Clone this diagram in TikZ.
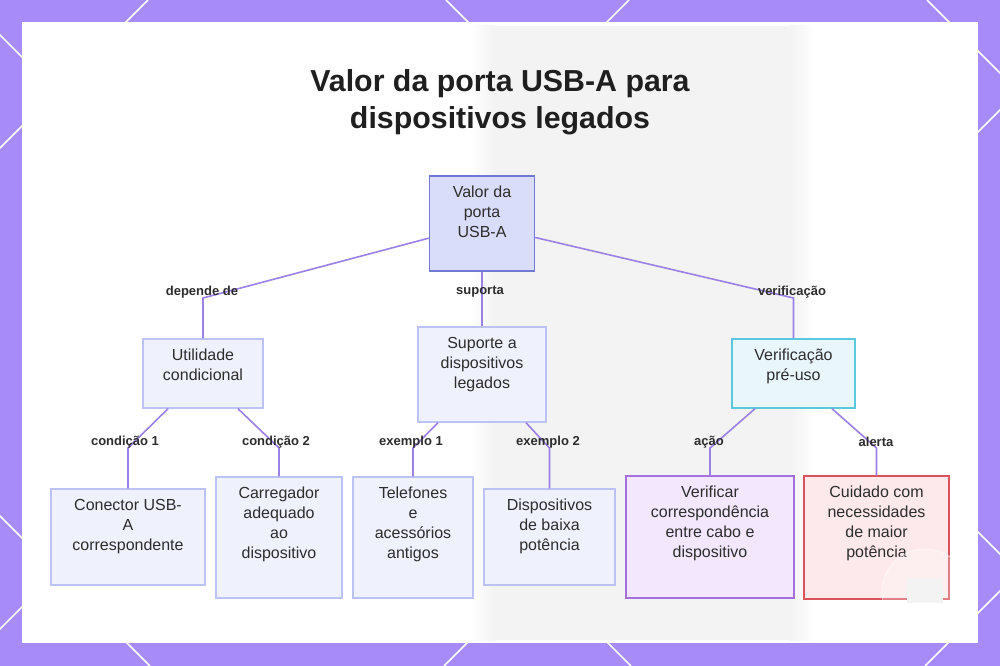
\documentclass[tikz,border=0pt]{standalone}
\usepackage{fontspec}
\setmainfont{Liberation Sans}
\usetikzlibrary{positioning}
\definecolor{bgpurple}{RGB}{167,139,248}
\definecolor{linkline}{RGB}{155,128,230}
\definecolor{ink}{RGB}{45,45,45}
\definecolor{nodefill}{RGB}{239,241,253}
\definecolor{nodeline}{RGB}{188,194,244}
\definecolor{rootfill}{RGB}{218,221,250}
\definecolor{rootline}{RGB}{112,122,212}
\definecolor{cyanfill}{RGB}{233,247,253}
\definecolor{cyanline}{RGB}{92,200,222}
\definecolor{lilacfill}{RGB}{242,231,253}
\definecolor{lilacline}{RGB}{165,112,222}
\definecolor{pinkfill}{RGB}{253,233,236}
\definecolor{pinkline}{RGB}{218,82,92}
\definecolor{haze}{RGB}{243,243,243}
\newcommand{\celltext}[3]{\parbox[c][#2][t]{#1}{\centering\vspace*{5.7pt}\strut#3}}

\begin{document}
\begin{tikzpicture}[x=0.75pt, y=-0.75pt,
  box/.style={draw=nodeline, fill=nodefill, line width=1.1pt, inner sep=0pt,
    font=\fontsize{12}{15}\selectfont, text=ink},
  rootbox/.style={box, draw=rootline, fill=rootfill},
  cyanbox/.style={box, draw=cyanline, fill=cyanfill},
  lilacbox/.style={box, draw=lilacline, fill=lilacfill},
  pinkbox/.style={box, draw=pinkline, fill=pinkfill},
  link/.style={draw=linkline, line width=1.2pt},
  lbl/.style={font=\fontsize{9.75}{12}\selectfont\bfseries, text=ink},
  title/.style={font=\fontsize{22.75}{28}\selectfont\bfseries, align=center, text=black!88}
]
\useasboundingbox (0,0) rectangle (1000,666);
\fill[bgpurple] (0,0) rectangle (1000,666);
\begin{scope}
\clip (0,0) rectangle (1000,666);
\foreach \c in {148,629,1110,1591}
  \draw[white, line width=1.3pt] (\c,0) -- (\c-666,666);
\foreach \d in {-516,-35,446,927}
  \draw[white, line width=1.3pt] (\d,0) -- (\d+666,666);
\end{scope}
\fill[white] (22,22) rectangle (978,643);
\fill[haze] (495,26) rectangle (790,640);
\shade[left color=white, right color=haze] (470,26) rectangle (495,640);
\shade[left color=haze, right color=white] (790,26) rectangle (815,640);

\node[title, anchor=base] (head) at (500,129) {Valor da porta USB-A para\\dispositivos legados};

\node[rootbox] (root) at (482,223.5) {\celltext{78.75pt}{71.25pt}{Valor da\\porta\\USB-A}};
\node[box] (util) at (203,373.5) {\celltext{90pt}{51.75pt}{Utilidade\\condicional}};
\node[box] (legacy) at (482,374.5) {\celltext{96pt}{71.25pt}{Suporte a\\dispositivos\\legados}};
\node[cyanbox] (verif) at (793.5,373.5) {\celltext{92.25pt}{51.75pt}{Verificação\\pré-uso}};
\node[box] (conn) at (128,537) {\celltext{115.5pt}{72pt}{Conector USB-\\A\\correspondente}};
\node[box] (charger) at (279,537.5) {\celltext{94.5pt}{90.75pt}{Carregador\\adequado\\ao\\dispositivo}};
\node[box] (phones) at (413,537.5) {\celltext{90pt}{90.75pt}{Telefones\\e\\acessórios\\antigos}};
\node[box] (lowpow) at (549.5,537) {\celltext{98.25pt}{72pt}{Dispositivos\\de baixa\\potência}};
\node[lilacbox] (match) at (710,537) {\celltext{126pt}{91.5pt}{Verificar\\correspondência\\entre cabo e\\dispositivo}};
\node[pinkbox] (warn) at (876.5,537.5) {\celltext{108.75pt}{92.25pt}{Cuidado com\\necessidades\\de maior\\potência}};

\coordinate (kDep) at (203,298);
\coordinate (kVer) at (793.5,298);
\coordinate (kC1) at (128,448);
\coordinate (kC2) at (279,448);
\coordinate (kE1) at (413,448);
\coordinate (kE2) at (549.5,448);
\coordinate (kAct) at (710,448);
\coordinate (kAlt) at (876.5,448);

\draw[link] ([yshift=-11pt]root.west) -- (kDep) -- (util);
\draw[link] (root) -- (legacy);
\draw[link] ([yshift=-10.5pt]root.east) -- (kVer) -- (verif);
\draw[link] ([xshift=-26.25pt]util.south) -- (kC1) -- (conn);
\draw[link] ([xshift=26.25pt]util.south) -- (kC2) -- (charger);
\draw[link] ([xshift=-33pt]legacy.south) -- (kE1) -- (phones);
\draw[link] ([xshift=33pt]legacy.south) -- (kE2) -- (lowpow);
\draw[link] ([xshift=-28.9pt]verif.south) -- (kAct) -- (match);
\draw[link] ([xshift=28.9pt]verif.south) -- (kAlt) -- (warn);

\node[lbl] (lDep) at (202,292) {depende de};
\node[lbl] (lSup) at (480,292) {suporta};
\node[lbl] (lVer) at (792,292) {verificação};
\node[lbl] (lC1) at (125,442) {condição 1};
\node[lbl] (lC2) at (276,442) {condição 2};
\node[lbl] (lE1) at (411,442) {exemplo 1};
\node[lbl] (lE2) at (548,442) {exemplo 2};
\node[lbl] (lAct) at (709,442) {ação};
\node[lbl] (lAlt) at (876,442) {alerta};

\draw[white, line width=0.6pt, draw opacity=0.6, fill=white, fill opacity=0.25] (925,592) circle[radius=43];
\fill[haze] (907,578) rectangle (943,603);
\end{tikzpicture}
\end{document}
